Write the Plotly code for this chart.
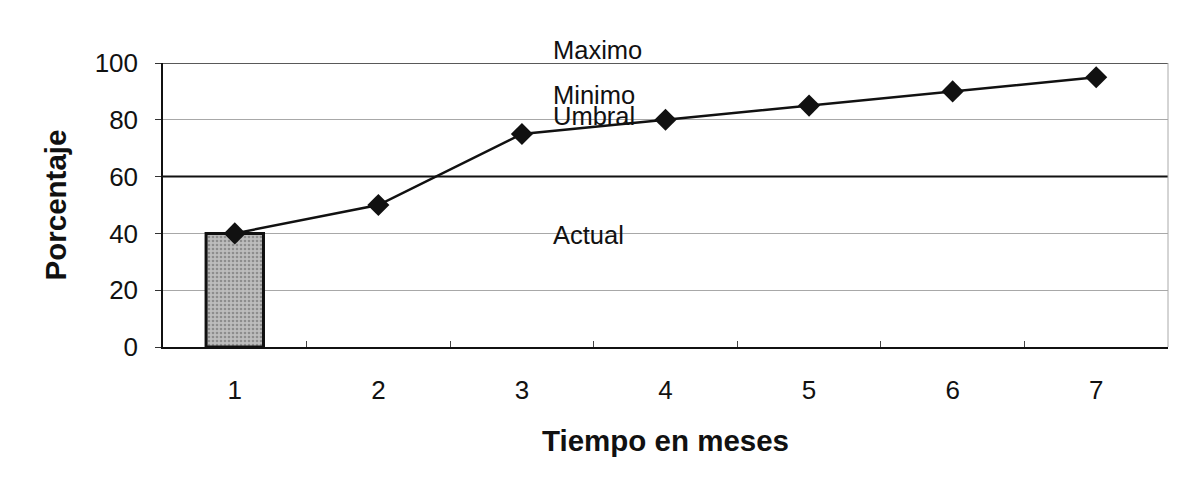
import plotly.graph_objects as go

# ---- data ----
meses = [1, 2, 3, 4, 5, 6, 7]
porcentaje = [40, 50, 75, 80, 85, 90, 95]
barra_mes = [1]
barra_valor = [40]
etiquetas = ["Minimo", "Umbral", "Actual"]
etiqueta_y = [88.7, 81.3, 39.6]
etiqueta_max = "Maximo"
etiqueta_x = 3.205
y_ticks = [0, 20, 40, 60, 80, 100]

FONT = "Arial, 'Liberation Sans', sans-serif"

fig = go.Figure()
fig.add_trace(go.Bar(
    x=barra_mes, y=barra_valor, width=0.4,
    marker=dict(color="#b0b0b0", line=dict(color="#111111", width=3),
                pattern=dict(shape=".", fgcolor="#5e5e5e", bgcolor="#bdbdbd",
                             size=4, solidity=0.35)),
    showlegend=False, hoverinfo="skip"))
fig.add_trace(go.Scatter(
    x=meses, y=porcentaje, mode="lines+markers",
    line=dict(color="#111111", width=2.5),
    marker=dict(symbol="diamond", size=17, color="#111111"),
    showlegend=False, cliponaxis=False))

for t, yv in zip(etiquetas, etiqueta_y):
    fig.add_annotation(x=etiqueta_x, y=yv, text=t, showarrow=False,
                       xanchor="left", yanchor="middle",
                       font=dict(family=FONT, size=25.5, color="#111111"))
fig.add_annotation(x=etiqueta_x, y=100, text=etiqueta_max, showarrow=False,
                   xanchor="left", yanchor="bottom", yshift=-3,
                   font=dict(family=FONT, size=25.5, color="#111111"))

# special reference lines / frame
fig.add_shape(type="line", xref="paper", x0=0, x1=1, yref="y", y0=60, y1=60,
              line=dict(color="#111111", width=2))
fig.add_shape(type="line", xref="paper", x0=0, x1=1, yref="y", y0=100, y1=100,
              line=dict(color="#222222", width=1.5))
fig.add_shape(type="line", xref="paper", x0=1, x1=1, yref="y", y0=0, y1=100,
              line=dict(color="#aaaaaa", width=1))

fig.update_layout(
    width=1173, height=483,
    margin=dict(l=155, r=13, t=55, b=144),
    paper_bgcolor="white", plot_bgcolor="white",
    font=dict(family=FONT, color="#111111"),
    xaxis=dict(range=[0.5, 7.5], tickvals=meses, ticktext=[str(m) for m in meses],
               tickfont=dict(size=26), ticks="outside", ticklen=0,
               ticklabelstandoff=19,
               showline=True, linecolor="#111111", linewidth=1.5,
               showgrid=False, zeroline=False,
               minor=dict(tickvals=[1.5, 2.5, 3.5, 4.5, 5.5, 6.5], ticks="inside",
                          ticklen=6, tickcolor="#444444", tickwidth=1),
               title=dict(text="<b>Tiempo en meses</b>", font=dict(size=29.5),
                          standoff=26)),
    yaxis=dict(range=[0, 100], tickvals=y_ticks, tickfont=dict(size=26),
               ticks="outside", ticklen=6, tickcolor="#333333",
               ticklabelstandoff=12,
               showline=True, linecolor="#111111", linewidth=1.5,
               showgrid=True, gridcolor="#a8a8a8", gridwidth=1,
               zeroline=False,
               title=dict(text="<b>Porcentaje</b>", font=dict(size=29.5),
                          standoff=19)),
)

fig.write_html("out.html")
